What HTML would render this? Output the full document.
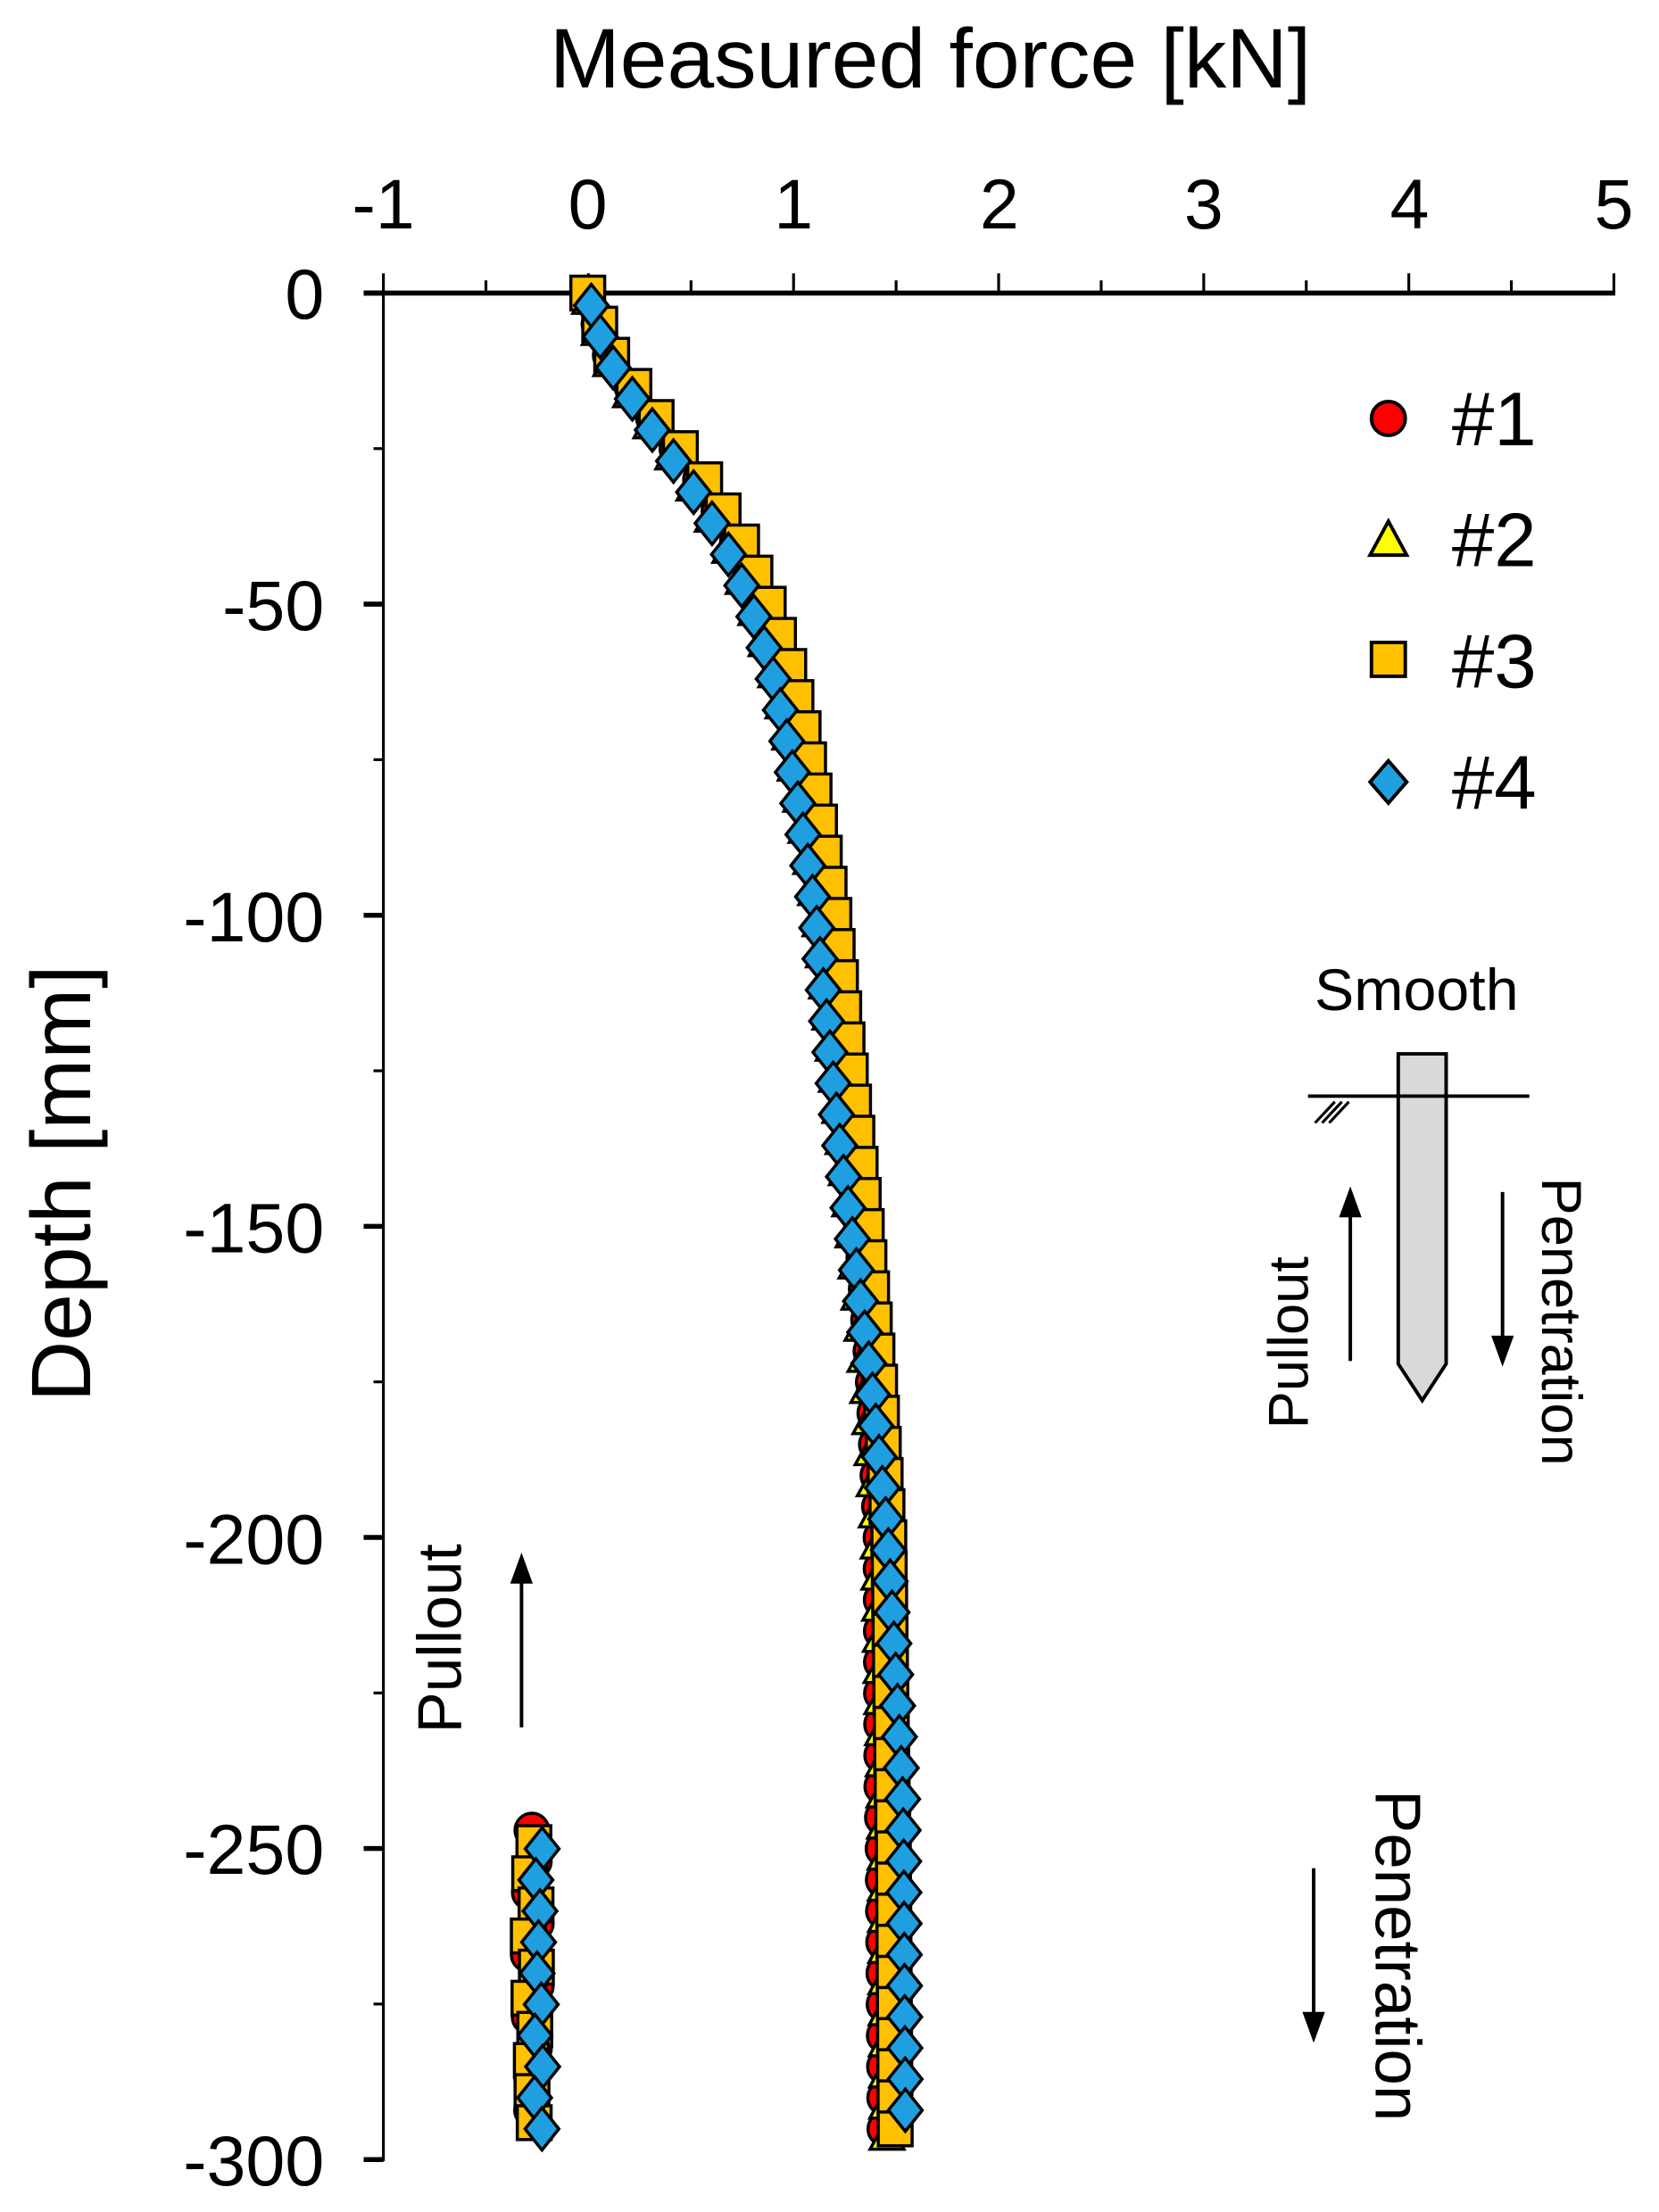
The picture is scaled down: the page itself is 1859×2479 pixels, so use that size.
<!DOCTYPE html>
<html><head><meta charset="utf-8"><style>
html,body{margin:0;padding:0;background:#fff;}
svg{display:block;}
text{font-family:"Liberation Sans",Arial,sans-serif;fill:#000;}
</style></head><body>
<svg id="s" width="1859" height="2479" viewBox="0 0 1177 1570" preserveAspectRatio="none" xmlns="http://www.w3.org/2000/svg">
<rect width="1177" height="1570" fill="#fff"/>
<text x="660" y="62" font-size="60" text-anchor="middle">Measured force [kN]</text>
<g font-size="50" text-anchor="middle">
<text x="272" y="162">-1</text><text x="417" y="162">0</text><text x="563" y="162">1</text><text x="709" y="162">2</text><text x="854" y="162">3</text><text x="1000" y="162">4</text><text x="1145" y="162">5</text>
</g>
<g font-size="50" text-anchor="end">
<text x="230" y="226">0</text><text x="230" y="447">-50</text><text x="230" y="668">-100</text><text x="230" y="889">-150</text><text x="230" y="1110">-200</text><text x="230" y="1330">-250</text><text x="230" y="1551">-300</text>
</g>
<text transform="translate(64,840) rotate(-90)" font-size="60" text-anchor="middle">Depth [mm]</text>
<g id="axes" stroke="#000" fill="none"></g>
<g id="data"></g>
<g stroke="#000" stroke-width="2.5">
<circle cx="985" cy="297" r="12" fill="#ff0000"/>
<polygon points="985,370 998,394 972,394" fill="#ffff00"/>
<rect x="973" y="456" width="24" height="24" fill="#ffc000"/>
<polygon points="985,540 998,555 985,570 972,555" fill="#1f9fdf"/>
</g>
<g font-size="54"><text x="1030" y="316">#1</text><text x="1030" y="402">#2</text><text x="1030" y="488">#3</text><text x="1030" y="574">#4</text></g>
<text x="1005" y="717" font-size="42" text-anchor="middle">Smooth</text>
<polygon points="992,748 1026,748 1026,968 1009,994 992,968" fill="#d9d9d9" stroke="#000" stroke-width="2.5"/>
<line x1="928" y1="778" x2="1085" y2="778" stroke="#000" stroke-width="2.5"/>
<g stroke="#000" stroke-width="2"><line x1="933" y1="797" x2="947" y2="782"/><line x1="938" y1="797" x2="952" y2="782"/><line x1="943" y1="797" x2="957" y2="782"/></g>
<line x1="958" y1="966" x2="958" y2="860" stroke="#000" stroke-width="2.5"/><polygon points="958,842 950,864 966,864"/>
<line x1="1066" y1="846" x2="1066" y2="952" stroke="#000" stroke-width="2.5"/><polygon points="1066,970 1058,948 1074,948"/>
<text transform="translate(928,953) rotate(-90)" font-size="40" text-anchor="middle">Pullout</text>
<text transform="translate(1094,938) rotate(90)" font-size="40" text-anchor="middle">Penetration</text>
<line x1="370" y1="1226" x2="370" y2="1120" stroke="#000" stroke-width="2.5"/><polygon points="370,1102 362,1124 378,1124"/>
<text transform="translate(327,1163) rotate(-90)" font-size="44" text-anchor="middle">Pullout</text>
<line x1="932" y1="1326" x2="932" y2="1432" stroke="#000" stroke-width="2.5"/><polygon points="932,1450 924,1428 940,1428"/>
<text transform="translate(976,1388) rotate(90)" font-size="46" text-anchor="middle">Penetration</text>
</svg>
<script>
var NS="http://www.w3.org/2000/svg";
function X(v){return 417+v*145.5;}function Y(d){return 208+d*4.417;}
var ax=document.getElementById("axes");
function L(x1,y1,x2,y2,w){var l=document.createElementNS(NS,"line");l.setAttribute("x1",x1);l.setAttribute("y1",y1);l.setAttribute("x2",x2);l.setAttribute("y2",y2);l.setAttribute("stroke-width",w);ax.appendChild(l);}
L(258,208,1146,208,3.5);L(272,208,272,1534,2);
for(var i=0;i<=12;i++){var x=272+i*72.75;L(x,208,x,i%2?199:194,2);}
for(var j=0;j<=12;j++){var y=208+j*110.4;L(272,y,j%2?265:258,y,j%2?2:3.5);}
var tbl=[[0,0],[10,0.1],[20,0.3],[30,0.52],[40,0.7],[50,0.83],[60,0.93],[70,1.0],[85,1.08],[100,1.15],[125,1.23],[150,1.31],[175,1.38],[200,1.43],[250,1.46],[300,1.47]];
function f(d){for(var k=1;k<tbl.length;k++){if(d<=tbl[k][0]){var a=tbl[k-1],b=tbl[k];return a[1]+(b[1]-a[1])*(d-a[0])/(b[0]-a[0]);}}return 1.47;}
function lerp(a,b,d){var t=Math.max(0,Math.min(1,(d-140)/100));return a+(b-a)*t;}
var g=document.getElementById("data");
function mk(t,cx,cy){var e;
if(t==0){e=document.createElementNS(NS,"circle");e.setAttribute("cx",cx);e.setAttribute("cy",cy);e.setAttribute("r",12);e.setAttribute("fill","#ff0000");}
else if(t==1){e=document.createElementNS(NS,"polygon");e.setAttribute("points",cx+","+(cy-12)+" "+(cx+12)+","+(cy+10)+" "+(cx-12)+","+(cy+10));e.setAttribute("fill","#ffff00");}
else if(t==2){e=document.createElementNS(NS,"rect");e.setAttribute("x",cx-12);e.setAttribute("y",cy-12);e.setAttribute("width",24);e.setAttribute("height",24);e.setAttribute("fill","#ffc000");}
else {e=document.createElementNS(NS,"polygon");e.setAttribute("points",cx+","+(cy-15)+" "+(cx+12)+","+cy+" "+cx+","+(cy+15)+" "+(cx-12)+","+cy);e.setAttribute("fill","#1f9fdf");}
e.setAttribute("stroke","#000");e.setAttribute("stroke-width","2.2");g.appendChild(e);}
var oa=[0.03,-0.02,0.05,-0.04],ob=[-0.02,-0.01,0.03,0.08],dstart=[0,1,0,2];
for(var s=0;s<4;s++){
 for(var d=dstart[s];d<=296;d+=5){var v=f(d)+lerp(oa[s],ob[s],d)*Math.min(1,d/30);
  mk(s,X(v),Y(d));}
 if(s!=1){for(var d2=247+s;d2<=296;d2+=5){var v2=-0.27+(s==3?0.03:0)+0.02*Math.sin(d2*0.7+s);mk(s,X(v2),Y(d2));}}
}
</script>
</body></html>
